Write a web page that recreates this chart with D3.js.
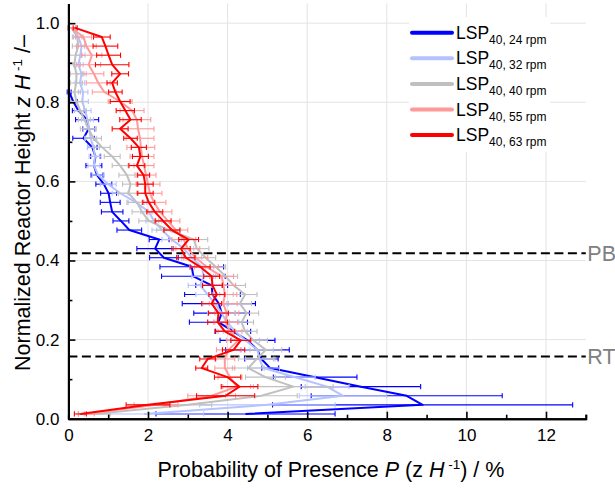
<!DOCTYPE html>
<html>
<head>
<meta charset="utf-8">
<script src="https://cdn.jsdelivr.net/npm/d3@7"></script>
<style>
  body { margin: 0; background: #fff; }
  svg { display: block; }
  text { font-family: "Liberation Sans", Arial, Helvetica, sans-serif; }
</style>
</head>
<body>
<svg id="chart" width="615" height="488"></svg>
<script>
// Normalized reactor height z/H of each measurement slice
const heights = [0.012, 0.035, 0.058, 0.081, 0.105, 0.128, 0.151, 0.174, 0.198, 0.221,
                 0.244, 0.267, 0.291, 0.314, 0.337, 0.360, 0.384, 0.407, 0.430, 0.453,
                 0.477, 0.500, 0.523, 0.547, 0.570, 0.593, 0.616, 0.640, 0.663, 0.686,
                 0.709, 0.733, 0.756, 0.779, 0.802, 0.826, 0.849, 0.872, 0.895, 0.919,
                 0.942, 0.965, 0.988];

// Probability of presence P (%) and its error (±) per slice
const p24 = [4.45, 8.90, 8.50, 7.35, 6.20, 5.07, 4.85, 4.75, 4.50, 4.14,
             3.77, 3.85, 3.78, 3.62, 3.60, 3.14, 3.10, 2.40, 2.18, 2.28,
             1.53, 1.32, 1.10, 1.05, 1.01, 0.89, 0.72, 0.64, 0.68, 0.60,
             0.38, 0.51, 0.47, 0.25, 0.12, 0.02, null, null, null, null,
             null, null, null];
const e24 = [2.25, 3.77, 2.40, 1.50, 1.05, 0.21, 0.42, 0.80, 0.69, 0.44,
             0.73, 0.70, 0.92, 0.70, 0.40, 0.80, 0.80, 0.36, 0.46, 0.25,
             0.31, 0.20, 0.27, 0.25, 0.20, 0.20, 0.15, 0.20, 0.12, 0.12,
             0.27, 0.15, 0.29, 0.15, 0.10, 0.05, null, null, null, null,
             null, null, null];

const p32 = [1.90, 5.00, 6.90, 6.50, 5.70, 4.90, 4.80, 4.75, 4.45, 4.19,
             3.98, 3.85, 3.68, 3.50, 3.31, 3.40, 3.35, 3.10, 2.90, 2.60,
             2.35, 2.15, 2.02, 1.70, 1.30, 1.00, 0.75, 0.64, 0.67, 0.63,
             0.56, 0.52, 0.48, 0.42, 0.35, 0.37, 0.29, 0.33, 0.25, 0.30,
             0.33, 0.25, 0.12];
const e32 = [1.50, 1.70, 1.10, 0.55, 0.50, 0.40, 0.35, 0.40, 0.35, 0.30,
             0.30, 0.35, 0.30, 0.30, 0.30, 0.30, 0.30, 0.25, 0.25, 0.25,
             0.25, 0.20, 0.20, 0.20, 0.20, 0.20, 0.15, 0.15, 0.15, 0.15,
             0.15, 0.15, 0.15, 0.15, 0.15, 0.12, 0.12, 0.12, 0.12, 0.12,
             0.12, 0.12, 0.10];

const p40 = [0.65, 3.00, 4.85, 5.65, 4.95, 4.52, 4.73, 4.96, 4.65, 4.44,
             4.35, 4.48, 4.31, 4.44, 4.15, 3.95, 3.70, 3.45, 3.23, 3.15,
             2.52, 2.02, 1.85, 1.72, 1.51, 1.56, 1.47, 1.30, 1.10, 0.85,
             0.63, 0.50, 0.40, 0.30, 0.20, 0.15, 0.20, 0.20, 0.15, 0.18,
             0.25, 0.22, 0.08];
const e40 = [0.40, 0.60, 0.90, 1.00, 0.50, 0.40, 0.46, 0.40, 0.35, 0.30,
             0.30, 0.30, 0.29, 0.30, 0.30, 0.30, 0.25, 0.25, 0.30, 0.35,
             0.30, 0.25, 0.25, 0.25, 0.25, 0.20, 0.20, 0.20, 0.20, 0.20,
             0.20, 0.20, 0.15, 0.15, 0.15, 0.15, 0.15, 0.15, 0.15, 0.15,
             0.15, 0.12, 0.10];

const p55 = [0.45, 2.20, 3.60, 4.23, 4.06, 3.93, 3.93, 4.02, 4.27, 4.06,
             3.95, 3.98, 3.89, 3.93, 3.90, 3.85, 3.47, 3.20, 3.00, 2.90,
             2.70, 2.50, 2.30, 2.15, 2.05, 2.00, 1.95, 1.90, 1.85, 1.82,
             1.80, 1.75, 1.72, 1.60, 1.30, 0.90, 0.75, 0.64, 0.51, 0.59,
             0.45, 0.38, 0.08];
const e55 = [0.20, 0.55, 0.60, 0.35, 0.30, 0.25, 0.25, 0.30, 0.30, 0.30,
             0.30, 0.30, 0.35, 0.30, 0.30, 0.30, 0.30, 0.30, 0.30, 0.30,
             0.30, 0.30, 0.30, 0.30, 0.30, 0.30, 0.25, 0.25, 0.30, 0.35,
             0.35, 0.40, 0.35, 0.30, 0.30, 0.30, 0.30, 0.25, 0.30, 0.25,
             0.25, 0.20, 0.10];

const p63 = [0.30, 2.00, 3.95, 4.30, 4.00, 3.35, 3.50, 4.15, 4.33, 3.93,
             3.75, 3.77, 3.60, 3.73, 3.62, 3.60, 3.31, 2.95, 2.83, 3.02,
             2.60, 2.38, 2.17, 2.02, 1.93, 1.93, 1.89, 1.72, 1.81, 1.77,
             1.56, 1.30, 1.56, 1.43, 1.30, 1.18, 1.10, 1.30, 1.10, 1.01,
             0.93, 0.84, 0.17];
const e63 = [0.15, 0.55, 0.73, 0.46, 0.33, 0.15, 0.20, 0.28, 0.25, 0.25,
             0.25, 0.25, 0.25, 0.20, 0.25, 0.20, 0.25, 0.23, 0.23, 0.25,
             0.20, 0.20, 0.20, 0.15, 0.20, 0.20, 0.15, 0.20, 0.20, 0.19,
             0.17, 0.20, 0.27, 0.23, 0.25, 0.17, 0.13, 0.21, 0.42, 0.30,
             0.31, 0.21, 0.05];

const seriesLabels = ["24 rpm", "32 rpm", "40 rpm", "55 rpm", "63 rpm"];
const seriesValues = [p24, p32, p40, p55, p63];
const seriesErrors = [e24, e32, e40, e55, e63];
const seriesColors = ["#0000ff", "#b4c2ff", "#c0c0c0", "#ff9a9a", "#ff0000"];

const xMajorTicks = [0, 2, 4, 6, 8, 10, 12];
const xMinorTicks = [1, 3, 5, 7, 9, 11, 13];
const yMajorTicks = [0, 0.2, 0.4, 0.6, 0.8, 1.0];
const yMinorTicks = [0.1, 0.3, 0.5, 0.7, 0.9];

const zoneNames = ["PB", "RT"];
const zoneHeights = [0.418, 0.157];

// ---- layout ----
const svg = d3.select("#chart");
const x = d3.scaleLinear().domain([0, 13]).range([68.4, 585.8]);
const y = d3.scaleLinear().domain([0, 1.05]).range([418.7, 3.4]);

// grid
const grid = svg.append("g").attr("stroke", "#e3e3e3").attr("stroke-width", 1);
grid.selectAll("line.gx").data(xMajorTicks.filter(d => d > 0)).join("line")
  .attr("x1", d => x(d)).attr("x2", d => x(d))
  .attr("y1", y(0)).attr("y2", y(1.05));
grid.selectAll("line.gy").data(yMajorTicks.filter(d => d > 0)).join("line")
  .attr("x1", x(0)).attr("x2", x(13))
  .attr("y1", d => y(d)).attr("y2", d => y(d));

// zone boundaries
const zones = svg.append("g");
zoneHeights.forEach((h, i) => {
  zones.append("line")
    .attr("x1", x(0)).attr("x2", x(13))
    .attr("y1", y(h)).attr("y2", y(h))
    .attr("stroke", "#000").attr("stroke-width", 2)
    .attr("stroke-dasharray", "9,4.5");
  zones.append("text")
    .attr("x", x(13) + 1.5).attr("y", y(h))
    .attr("dy", "0.36em")
    .attr("font-size", 21.5).attr("fill", "#808080")
    .text(zoneNames[i]);
});

// series: error bars + profile line
const line = d3.line()
  .defined(d => d.v != null)
  .x(d => x(d.v)).y(d => y(d.z));

seriesValues.forEach((vals, si) => {
  const color = seriesColors[si];
  const pts = vals.map((v, i) => ({ v, z: heights[i], e: seriesErrors[si][i] }))
                  .filter(d => d.v != null);
  const g = svg.append("g");
  const eb = g.append("g").attr("stroke", color).attr("stroke-width", 1.1).attr("fill", "none");
  eb.selectAll("line.bar").data(pts).join("line")
    .attr("x1", d => x(d.v - d.e)).attr("x2", d => x(d.v + d.e))
    .attr("y1", d => y(d.z)).attr("y2", d => y(d.z));
  eb.selectAll("line.capl").data(pts).join("line")
    .attr("x1", d => x(d.v - d.e)).attr("x2", d => x(d.v - d.e))
    .attr("y1", d => y(d.z) - 2.6).attr("y2", d => y(d.z) + 2.6);
  eb.selectAll("line.capr").data(pts).join("line")
    .attr("x1", d => x(d.v + d.e)).attr("x2", d => x(d.v + d.e))
    .attr("y1", d => y(d.z) - 2.6).attr("y2", d => y(d.z) + 2.6);
  g.append("path")
    .attr("d", line(vals.map((v, i) => ({ v, z: heights[i] }))))
    .attr("fill", "none").attr("stroke", color)
    .attr("stroke-width", 2).attr("stroke-linejoin", "round");
});

// axes
const axisStyle = sel => {
  sel.select(".domain").attr("stroke", "#000").attr("stroke-width", 2);
  sel.selectAll(".tick line").attr("stroke", "#000").attr("stroke-width", 1.6);
  sel.selectAll("text").attr("font-size", 17).attr("fill", "#000")
     .attr("font-family", '"Liberation Sans", Arial, sans-serif');
};
svg.append("g").attr("transform", `translate(0,${y(0)})`)
  .call(d3.axisBottom(x).tickValues(xMinorTicks).tickSize(-4).tickFormat(""))
  .call(axisStyle);
svg.append("g").attr("transform", `translate(0,${y(0)})`)
  .call(d3.axisBottom(x).tickValues(xMajorTicks).tickSize(-7).tickSizeOuter(0).tickPadding(10)
        .tickFormat(d3.format("d")))
  .call(axisStyle);
svg.append("g").attr("transform", `translate(${x(0)},0)`)
  .call(d3.axisLeft(y).tickValues(yMinorTicks).tickSize(-4).tickSizeOuter(0).tickFormat(""))
  .call(axisStyle);
svg.append("g").attr("transform", `translate(${x(0)},0)`)
  .call(d3.axisLeft(y).tickValues(yMajorTicks).tickSize(-7).tickSizeOuter(0).tickPadding(9)
        .tickFormat(d3.format(".1f")))
  .call(axisStyle);

// axis titles
const xt = svg.append("text").attr("x", 331).attr("y", 477)
  .attr("text-anchor", "middle").attr("font-size", 21.5);
xt.append("tspan").text("Probability of Presence ");
xt.append("tspan").attr("font-style", "italic").text("P");
xt.append("tspan").text(" (z ");
xt.append("tspan").attr("font-style", "italic").text("H");
xt.append("tspan").attr("font-size", 13.5).attr("dy", -8).text(" -1");
xt.append("tspan").attr("dy", 8).text(") / %");

const yt = svg.append("text")
  .attr("transform", "translate(30,203) rotate(-90)")
  .attr("text-anchor", "middle").attr("font-size", 21.5);
yt.append("tspan").text("Normalized Reactor Height ");
yt.append("tspan").attr("font-style", "italic").text("z H");
yt.append("tspan").attr("font-size", 13.5).attr("dy", -8).text(" -1");
yt.append("tspan").attr("dy", 8).text(" /–");

// legend
const lg = svg.append("g");
lg.append("rect").attr("x", 409).attr("y", 17).attr("width", 141).attr("height", 135)
  .attr("fill", "#fff");
seriesLabels.forEach((lab, i) => {
  const ly = 32.7 + i * 25.6;
  lg.append("line").attr("x1", 412).attr("x2", 452).attr("y1", ly).attr("y2", ly)
    .attr("stroke", seriesColors[i]).attr("stroke-width", 4).attr("stroke-linecap", "round");
  const t = lg.append("text").attr("x", 456).attr("y", ly + 6).attr("font-size", 17.5);
  t.append("tspan").text("LSP");
  t.append("tspan").attr("font-size", 12).attr("dy", 5).text("40, " + lab);
});
</script>
</body>
</html>
